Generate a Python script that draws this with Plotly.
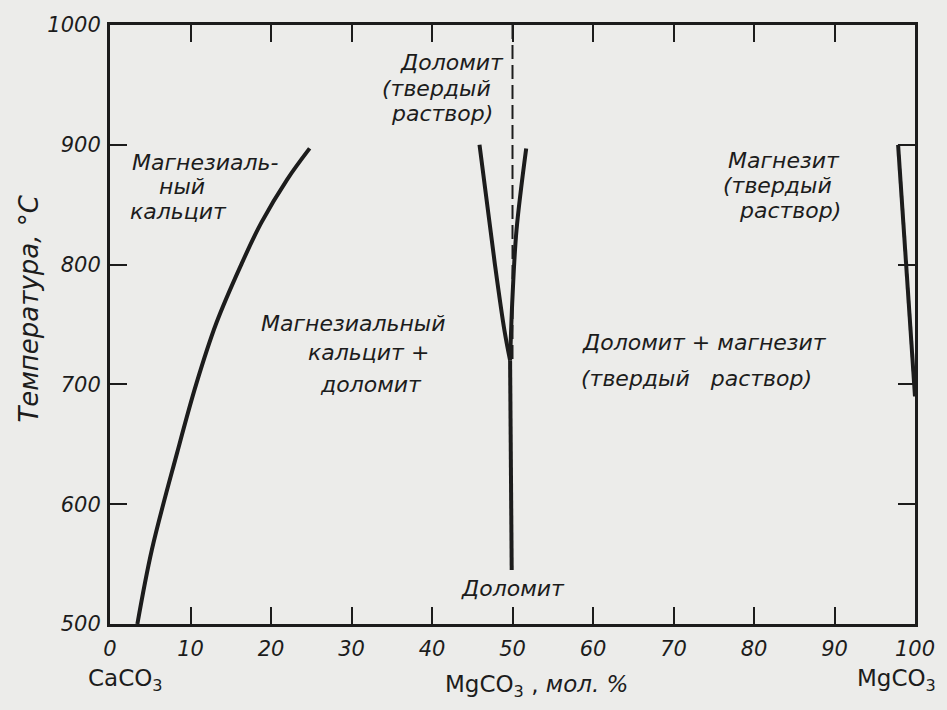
import plotly.graph_objects as go

# Phase boundaries of the CaCO3–MgCO3 system (x: mol.% MgCO3, y: temperature, °C)
calcite_x = [3.4, 5.2, 8.3, 10.7, 13.2, 16.3, 18.8, 22.0, 24.8]
calcite_t = [500, 562, 642, 700, 751, 800, 835, 871, 897]

dolomite_left_x = [45.9, 47.8, 49.0, 49.7]
dolomite_left_t = [900, 801, 745, 720]

dolomite_right_x = [51.7, 50.5, 50.0, 49.7]
dolomite_right_t = [897, 829, 773, 720]

dolomite_stem_x = [49.7, 49.9]
dolomite_stem_t = [720, 545]

dolomite_ideal_x = [50, 50]
dolomite_ideal_t = [1000, 720]

magnesite_x = [97.9, 100.0]
magnesite_t = [900, 690]

x_ticks = [0, 10, 20, 30, 40, 50, 60, 70, 80, 90, 100]
y_ticks = [500, 600, 700, 800, 900, 1000]

INK = "#1c1c1c"
BG = "#ececea"
FONT = "DejaVu Sans"

fig = go.Figure()

def boundary(xs, ts, width=4, dash="solid", shape="spline"):
    fig.add_trace(go.Scatter(
        x=xs, y=ts, mode="lines",
        line=dict(color=INK, width=width, dash=dash, shape=shape),
        hoverinfo="skip", showlegend=False,
    ))

boundary(calcite_x, calcite_t, width=4)
boundary(dolomite_left_x, dolomite_left_t, width=4)
boundary(dolomite_right_x, dolomite_right_t, width=4)
boundary(dolomite_stem_x, dolomite_stem_t, width=4, shape="linear")
boundary(dolomite_ideal_x, dolomite_ideal_t, width=2, dash="14px,6px", shape="linear")
boundary(magnesite_x, magnesite_t, width=4, shape="linear")

# Field labels: (text, x, y)
field_labels = [
    ("Магнезиаль-", 11.8, 885),
    ("ный", 9.0, 865),
    ("кальцит", 8.5, 844),
    ("Магнезиальный", 30.2, 751),
    ("кальцит +", 32.1, 727),
    ("доломит", 32.4, 700),
    ("Доломит", 42.5, 969),
    ("(твердый", 40.6, 947),
    ("раствор)", 41.3, 926),
    ("Магнезит", 83.7, 887),
    ("(твердый", 82.9, 866),
    ("раствор)", 84.5, 845),
    ("Доломит + магнезит", 73.9, 735),
    ("(твердый   раствор)", 72.9, 705),
    ("Доломит", 50.1, 530),
]
for text, x, y in field_labels:
    fig.add_annotation(
        x=x, y=y, xref="x", yref="y", text=text, showarrow=False,
        xanchor="center", yanchor="middle",
        font=dict(family=FONT, size=22, color=INK, style="italic"),
    )

# Composition end-members and axis captions (outside the plotting area)
outer_labels = [
    ("CaCO<sub>3</sub>", 0.0197, -0.094),
    ("MgCO<sub>3</sub>", 0.9766, -0.094),
    ("MgCO<sub>3</sub> , <i>мол. %</i>", 0.5296, -0.104),
]
for text, x, y in outer_labels:
    fig.add_annotation(x=x, y=y, xref="paper", yref="paper", text=text,
                       showarrow=False, xanchor="center", yanchor="middle",
                       font=dict(family=FONT, size=23, color=INK))
fig.add_annotation(x=-0.101, y=0.526, xref="paper", yref="paper",
                   text="Температура, °C", textangle=-90, showarrow=False,
                   xanchor="center", yanchor="middle",
                   font=dict(family=FONT, size=26, color=INK, style="italic"))

axis_common = dict(
    showgrid=False, zeroline=False,
    showline=True, linecolor=INK, linewidth=3, mirror="ticks",
    ticks="inside", ticklen=17, tickwidth=2, tickcolor=INK,
    tickfont=dict(family=FONT, size=21, color=INK, style="italic"),
)

fig.update_layout(
    width=947, height=710,
    margin=dict(l=110, r=25, t=25, b=86),
    paper_bgcolor=BG, plot_bgcolor=BG,
    xaxis=dict(range=[0, 100], tickmode="array", tickvals=x_ticks,
               ticklabelstandoff=4, **axis_common),
    yaxis=dict(range=[500, 1000], tickmode="array", tickvals=y_ticks,
               ticklabelstandoff=2, **axis_common),
)

fig.write_html("out.html")
